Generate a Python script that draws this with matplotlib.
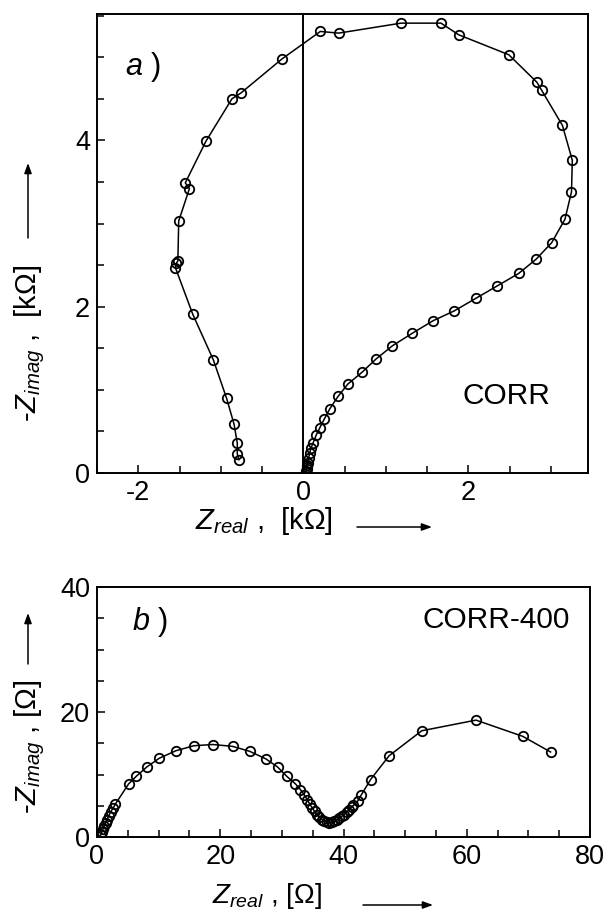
import matplotlib
matplotlib.use("Agg")
import matplotlib.pyplot as plt
from matplotlib.ticker import MultipleLocator

plt.rcParams['font.family'] = ['Liberation Sans', 'DejaVu Sans']
plt.rcParams['mathtext.fontset'] = 'custom'
plt.rcParams['mathtext.rm'] = 'Liberation Sans'
plt.rcParams['mathtext.it'] = 'Liberation Sans:italic'
plt.rcParams['mathtext.bf'] = 'Liberation Sans:bold'
plt.rcParams['axes.unicode_minus'] = False

# ---- panel a: CORR (kOhm) ----
corr_zreal = [0.03, 0.035, 0.04, 0.045, 0.05, 0.055, 0.065, 0.077, 0.093, 0.118,
              0.158, 0.198, 0.255, 0.32, 0.42, 0.54, 0.71, 0.88, 1.08, 1.32,
              1.57, 1.83, 2.09, 2.35, 2.61, 2.82, 3.01, 3.17, 3.25, 3.26,
              3.14, 2.89, 2.83, 2.49, 1.883, 1.669, 1.184, 0.428, 0.206, -0.258,
              -0.756, -0.865, -1.18, -1.43, -1.38, -1.51, -1.52, -1.54, -1.55,
              -1.34, -1.09, -0.93, -0.84, -0.80, -0.80, -0.78]
corr_zimag = [0.01, 0.03, 0.05, 0.07, 0.10, 0.12, 0.18, 0.24, 0.30, 0.36,
              0.46, 0.54, 0.65, 0.77, 0.92, 1.07, 1.21, 1.37, 1.53, 1.68,
              1.83, 1.95, 2.10, 2.25, 2.40, 2.57, 2.77, 3.05, 3.38, 3.76,
              4.18, 4.60, 4.70, 5.03, 5.27, 5.41, 5.41, 5.29, 5.31, 4.98,
              4.57, 4.50, 3.99, 3.49, 3.42, 3.03, 2.55, 2.52, 2.47,
              1.91, 1.36, 0.90, 0.59, 0.36, 0.23, 0.16]

# ---- panel b: CORR-400 (Ohm) ----
c400_zreal = [0.6, 0.8, 1.0, 1.2, 1.4, 1.6, 1.9, 2.2, 2.6, 3.0,
              5.13, 6.36, 8.07, 10.1, 12.8, 15.7, 18.8, 22.0, 24.8, 27.4,
              29.3, 30.8, 32.2, 33.0, 33.6, 34.1, 34.5, 34.9, 35.3, 35.7,
              36.1, 36.5, 36.9, 37.3, 37.7, 38.1, 38.5, 38.9, 39.3, 39.7,
              40.1, 40.5, 40.9, 41.3, 41.6, 42.3, 42.9, 44.4, 47.4, 52.7,
              61.5, 69.1, 73.6]
c400_zimag = [0.3, 0.8, 1.3, 1.8, 2.3, 2.8, 3.4, 4.0, 4.6, 5.3,
              8.5, 9.7, 11.2, 12.6, 13.8, 14.6, 14.8, 14.5, 13.7, 12.5,
              11.2, 9.7, 8.5, 7.6, 6.8, 6.0, 5.3, 4.7, 4.1, 3.6,
              3.2, 2.8, 2.6, 2.4, 2.3, 2.4, 2.5, 2.7, 3.0, 3.3,
              3.6, 4.0, 4.4, 4.8, 5.05, 5.74, 6.76, 9.2, 13.0, 17.0,
              18.7, 16.1, 13.6]

W, H = 616, 916
fig = plt.figure(figsize=(W / 100, H / 100), dpi=100)

def fx(px):
    return px / W

def fy(py):
    return 1 - py / H

ax1 = fig.add_axes([fx(97), fy(473), (588 - 97) / W, (473 - 14) / H])
ax2 = fig.add_axes([fx(97), fy(837), (590 - 97) / W, (837 - 587) / H])

mk = dict(marker='o', markersize=6.8, markerfacecolor='none', markeredgecolor='black',
          markeredgewidth=1.3, color='black', linewidth=1.1)

ax1.axvline(0, color='black', linewidth=1.4, zorder=1)
ax1.plot(corr_zreal, corr_zimag, **mk)
ax1.set_xlim(-2.5, 3.45)
ax1.set_ylim(0, 5.52)
ax1.xaxis.set_major_locator(MultipleLocator(2))
ax1.xaxis.set_minor_locator(MultipleLocator(0.5))
ax1.yaxis.set_major_locator(MultipleLocator(2))
ax1.yaxis.set_minor_locator(MultipleLocator(0.5))

ax2.plot(c400_zreal, c400_zimag, **mk)
ax2.set_xlim(0, 80)
ax2.set_ylim(0, 40)
ax2.xaxis.set_major_locator(MultipleLocator(20))
ax2.xaxis.set_minor_locator(MultipleLocator(5))
ax2.yaxis.set_major_locator(MultipleLocator(20))
ax2.yaxis.set_minor_locator(MultipleLocator(5))

for ax in (ax1, ax2):
    for s in ax.spines.values():
        s.set_linewidth(1.4)
    ax.tick_params(which='both', direction='in', top=False, right=False,
                   labelsize=19.5, width=1.1, pad=5)
    ax.tick_params(which='major', length=6)
    ax.tick_params(which='minor', length=5)

ax1.text(0.057, 0.885, r"$a$ )", transform=ax1.transAxes, fontsize=22,
         ha='left', va='center')
ax1.text(0.833, 0.168, "CORR", transform=ax1.transAxes, fontsize=21.5,
         ha='center', va='center')
ax2.text(0.071, 0.86, r"$b$ )", transform=ax2.transAxes, fontsize=22,
         ha='left', va='center')
ax2.text(0.809, 0.868, "CORR-400", transform=ax2.transAxes, fontsize=21.5,
         ha='center', va='center')

arrow = dict(arrowstyle='-|>,head_length=0.6,head_width=0.22', color='black',
             linewidth=1.1, shrinkA=0, shrinkB=0)

# axis labels with arrows
fig.text(fx(195), fy(521), r"$Z_{real}$ ,  [k$\Omega$]", fontsize=21,
         ha='left', va='center')
fig.add_artist(plt.Annotation('', xy=(fx(432), fy(527)), xytext=(fx(357), fy(527)),
                              xycoords='figure fraction', textcoords='figure fraction',
                              arrowprops=arrow))
fig.text(fx(30), fy(422), r"-$Z_{imag}$ ,  [k$\Omega$]", fontsize=21,
         rotation=90, ha='center', va='bottom')
fig.add_artist(plt.Annotation('', xy=(fx(28), fy(163)), xytext=(fx(28), fy(238)),
                              xycoords='figure fraction', textcoords='figure fraction',
                              arrowprops=arrow))

fig.text(fx(212), fy(896), r"$Z_{real}$ , [$\Omega$]", fontsize=20,
         ha='left', va='center')
fig.add_artist(plt.Annotation('', xy=(fx(433), fy(905)), xytext=(fx(363), fy(905)),
                              xycoords='figure fraction', textcoords='figure fraction',
                              arrowprops=arrow))
fig.text(fx(30), fy(814), r"-$Z_{imag}$ , [$\Omega$]", fontsize=21,
         rotation=90, ha='center', va='bottom')
fig.add_artist(plt.Annotation('', xy=(fx(28), fy(613)), xytext=(fx(28), fy(664)),
                              xycoords='figure fraction', textcoords='figure fraction',
                              arrowprops=arrow))

fig.savefig("out.png", dpi=100)
